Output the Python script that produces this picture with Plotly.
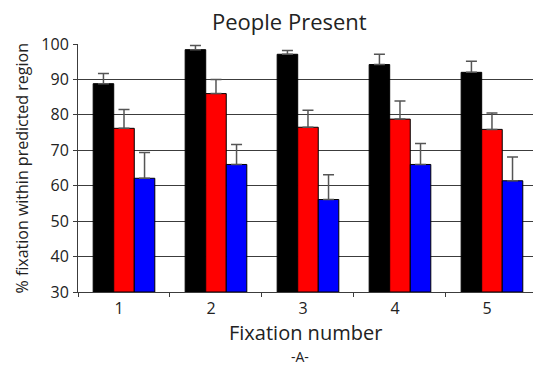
import plotly.graph_objects as go

# Fixation number categories
fixations = ["1", "2", "3", "4", "5"]

# Mean % of fixations falling within the predicted region, one list per model
black_vals = [88.8, 98.4, 97.1, 94.2, 92.0]
red_vals = [76.2, 86.0, 76.5, 78.8, 75.9]
blue_vals = [62.1, 66.0, 56.1, 66.0, 61.4]

# Upper error bar lengths
black_err = [2.9, 1.2, 1.1, 2.9, 3.1]
red_err = [5.3, 4.0, 4.8, 5.1, 4.6]
blue_err = [7.3, 5.6, 7.0, 5.9, 6.7]

y_ticks = [30, 40, 50, 60, 70, 80, 90, 100]

FONT = "Open Sans"
TEXT = "#222222"
GRID = "#3c3c3c"

fig = go.Figure()
for vals, errs, color in [
    (black_vals, black_err, "#000000"),
    (red_vals, red_err, "#ff0000"),
    (blue_vals, blue_err, "#0000ff"),
]:
    fig.add_trace(go.Bar(
        x=fixations,
        y=[v - 30 for v in vals],
        base=30,
        marker=dict(color=color, line=dict(color="#000000", width=1)),
        error_y=dict(type="data", array=errs, symmetric=False,
                     arrayminus=[0] * len(errs),
                     color="#555555", thickness=1.5, width=5.5),
        showlegend=False,
    ))

fig.update_layout(
    width=533, height=367,
    margin=dict(l=78, r=0, t=44, b=75),
    paper_bgcolor="white", plot_bgcolor="white",
    barmode="group", bargap=0.33, bargroupgap=0,
    font=dict(family=FONT, color=TEXT),
)

fig.update_xaxes(
    type="category",
    range=[-0.5, 4.446],
    tickson="boundaries",
    ticks="outside", ticklen=4, tickcolor=GRID,
    showline=True, linecolor=GRID, linewidth=1,
    showgrid=False,
    tickfont=dict(size=16, family=FONT, color=TEXT),
    ticklabelshift=-5, ticklabelstandoff=2,
)
fig.update_yaxes(
    range=[30, 100],
    tickvals=y_ticks,
    ticks="outside", ticklen=4, tickcolor=GRID,
    showline=True, linecolor=GRID, linewidth=1,
    showgrid=True, gridcolor=GRID, gridwidth=1,
    zeroline=False,
    tickfont=dict(size=16, family=FONT, color=TEXT),
    ticklabelstandoff=1,
)

PLOT_W = 455
fig.add_annotation(text="People Present", xref="paper", yref="paper",
                   x=(289.5 - 78) / PLOT_W, y=1, xanchor="center",
                   yanchor="middle", yshift=23, showarrow=False,
                   font=dict(size=22, family=FONT, color=TEXT))
fig.add_annotation(text="Fixation number", xref="paper", yref="paper",
                   x=(305 - 78) / PLOT_W, y=0, xanchor="center",
                   yanchor="middle", yshift=-40, showarrow=False,
                   font=dict(size=20, family=FONT, color=TEXT))
fig.add_annotation(text="-A-", xref="paper", yref="paper",
                   x=(300 - 78) / PLOT_W, y=0, xanchor="center",
                   yanchor="middle", yshift=-64, showarrow=False,
                   font=dict(size=14, family=FONT, color=TEXT))
fig.add_annotation(text="% fixation within predicted region", xref="paper",
                   yref="paper", x=0, xanchor="center", yanchor="middle",
                   xshift=-56.5, y=0.5, textangle=-90, showarrow=False,
                   font=dict(size=16, family=FONT, color=TEXT))

fig.write_html("out.html")
